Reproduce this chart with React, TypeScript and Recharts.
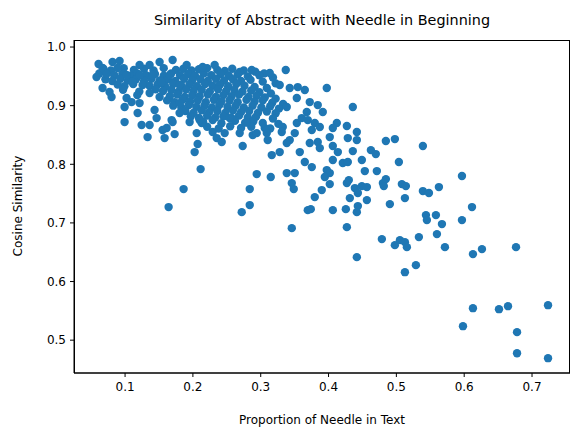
import { ScatterChart, Scatter, XAxis, YAxis, Label } from 'recharts';

// [proportion of needle, cosine similarity]
const denseBand: [number, number][] = [
  [0.068, 0.963], [0.079, 0.960], [0.098, 0.964], [0.113, 0.961], [0.128, 0.963], [0.142, 0.960], [0.157, 0.964], [0.175, 0.961],
  [0.186, 0.963], [0.198, 0.960], [0.209, 0.962], [0.221, 0.964], [0.236, 0.961], [0.247, 0.959], [0.258, 0.963], [0.275, 0.960], [0.292, 0.958], [0.305, 0.955],
  [0.062, 0.955], [0.084, 0.952], [0.096, 0.954], [0.108, 0.951], [0.118, 0.955], [0.131, 0.952], [0.144, 0.954], [0.157, 0.951], [0.168, 0.955], [0.181, 0.952],
  [0.193, 0.954], [0.203, 0.951], [0.216, 0.955], [0.227, 0.952], [0.241, 0.954], [0.253, 0.951], [0.266, 0.953], [0.281, 0.950], [0.298, 0.952], [0.318, 0.948],
  [0.071, 0.945], [0.081, 0.942], [0.093, 0.946], [0.104, 0.943], [0.116, 0.945], [0.128, 0.942], [0.139, 0.946], [0.151, 0.943], [0.163, 0.945], [0.174, 0.942],
  [0.187, 0.946], [0.199, 0.943], [0.211, 0.945], [0.222, 0.942], [0.234, 0.946], [0.246, 0.943], [0.259, 0.945], [0.271, 0.942], [0.285, 0.944], [0.303, 0.941], [0.322, 0.938],
  [0.089, 0.936], [0.099, 0.933], [0.112, 0.937], [0.136, 0.934], [0.148, 0.936], [0.159, 0.933], [0.171, 0.937], [0.183, 0.934], [0.195, 0.936], [0.206, 0.933],
  [0.218, 0.937], [0.229, 0.934], [0.240, 0.936], [0.252, 0.933], [0.264, 0.937], [0.276, 0.934], [0.291, 0.932], [0.309, 0.930],
  [0.097, 0.927], [0.121, 0.924], [0.145, 0.928], [0.156, 0.925], [0.168, 0.927], [0.179, 0.924], [0.190, 0.928], [0.201, 0.925], [0.213, 0.927], [0.225, 0.924],
  [0.237, 0.928], [0.249, 0.925], [0.261, 0.927], [0.273, 0.924], [0.286, 0.926], [0.298, 0.923], [0.315, 0.921],
  [0.118, 0.918], [0.166, 0.916], [0.177, 0.919], [0.188, 0.915], [0.199, 0.918], [0.210, 0.916], [0.222, 0.919], [0.234, 0.915], [0.245, 0.918], [0.257, 0.916],
  [0.268, 0.919], [0.282, 0.915], [0.294, 0.917], [0.306, 0.914], [0.322, 0.912],
  [0.162, 0.909], [0.173, 0.906], [0.185, 0.910], [0.196, 0.907], [0.207, 0.909], [0.219, 0.906], [0.231, 0.910], [0.242, 0.907], [0.254, 0.909], [0.266, 0.906],
  [0.279, 0.910], [0.291, 0.907], [0.303, 0.909], [0.317, 0.905], [0.333, 0.903],
  [0.171, 0.900], [0.183, 0.897], [0.194, 0.901], [0.205, 0.898], [0.217, 0.900], [0.228, 0.897], [0.239, 0.901], [0.251, 0.898], [0.263, 0.900], [0.275, 0.897],
  [0.288, 0.900], [0.301, 0.897], [0.314, 0.899], [0.327, 0.895],
  [0.189, 0.891], [0.201, 0.888], [0.213, 0.892], [0.224, 0.889], [0.236, 0.891], [0.248, 0.888], [0.259, 0.892], [0.271, 0.889], [0.283, 0.891], [0.296, 0.888],
  [0.309, 0.890], [0.322, 0.887],
  [0.197, 0.882], [0.209, 0.879], [0.221, 0.883], [0.233, 0.880], [0.245, 0.882], [0.257, 0.879], [0.268, 0.883], [0.281, 0.880], [0.293, 0.881], [0.318, 0.878],
  [0.215, 0.873], [0.242, 0.870], [0.262, 0.874], [0.277, 0.871], [0.289, 0.873], [0.326, 0.869],
  [0.221, 0.864], [0.238, 0.861], [0.255, 0.865], [0.271, 0.862], [0.286, 0.864], [0.314, 0.861],
];

const bandEdge: [number, number][] = [
  [0.0609, 0.971], [0.0579, 0.9488], [0.0668, 0.9642], [0.0668, 0.930], [0.0801, 0.9147], [0.0771, 0.9232], [0.0815, 0.9744], [0.0919, 0.9761],
  [0.0889, 0.9642], [0.0727, 0.9539], [0.1022, 0.9522], [0.1022, 0.913], [0.0993, 0.8976], [0.1096, 0.9061], [0.1185, 0.8874], [0.1214, 0.9044],
  [0.1435, 0.8925], [0.1465, 0.8788], [0.1509, 0.9147], [0.1613, 0.8618], [0.1686, 0.8754], [0.1804, 0.8874], [0.1804, 0.9044], [0.1701, 0.9778],
  [0.1509, 0.9744], [0.1362, 0.9693], [0.1214, 0.9693], [0.1111, 0.9403], [0.1258, 0.9352], [0.1362, 0.9215], [0.1539, 0.9403], [0.1657, 0.9522],
  [0.1406, 0.9522], [0.1214, 0.9522], [0.1804, 0.9352], [0.1908, 0.9693], [0.2321, 0.9693], [0.2144, 0.9659], [0.269, 0.9573], [0.2867, 0.9608],
  [0.3133, 0.9556], [0.3369, 0.9608], [0.3546, 0.9317], [0.3428, 0.930], [0.328, 0.9352],
];

const lowerLeft: [number, number][] = [
  [0.1952, 0.872], [0.2129, 0.8703], [0.2056, 0.8532], [0.207, 0.8345], [0.2026, 0.8208], [0.2114, 0.7918], [0.1863, 0.7577], [0.2292, 0.855],
  [0.2351, 0.8447], [0.2425, 0.8379], [0.2469, 0.8532], [0.269, 0.8532], [0.2734, 0.8311], [0.2882, 0.8498], [0.2941, 0.8532], [0.3089, 0.8532],
  [0.3103, 0.8413], [0.3059, 0.8618], [0.3163, 0.8157], [0.328, 0.8208], [0.3325, 0.8635], [0.3428, 0.8413], [0.3384, 0.8362], [0.3576, 0.8208],
  [0.3502, 0.8532], [0.3532, 0.8703], [0.2941, 0.7833], [0.3148, 0.7782], [0.3384, 0.785], [0.3502, 0.785], [0.3458, 0.7679], [0.3487, 0.7577],
  [0.2838, 0.7577], [0.2838, 0.7304], [0.272, 0.7184], [0.3458, 0.6911], [0.3694, 0.7218], [0.1642, 0.727], [0.0993, 0.872], [0.1244, 0.8669],
  [0.1362, 0.8669], [0.1332, 0.8464], [0.1553, 0.8584], [0.1583, 0.8447], [0.1731, 0.8515], [0.1701, 0.872], [0.331, 0.855], [0.3605, 0.8788],
  [0.3384, 0.8976], [0.3532, 0.913], [0.21, 0.8754], [0.2292, 0.8754], [0.2542, 0.8788], [0.2793, 0.872], [0.303, 0.8703],
];

const upperRight: [number, number][] = [
  [0.3974, 0.930], [0.365, 0.9266], [0.4358, 0.8976], [0.3723, 0.9061], [0.3841, 0.901], [0.3915, 0.8891], [0.3679, 0.8891], [0.3694, 0.8754],
  [0.3797, 0.8703], [0.3871, 0.8635], [0.3753, 0.8584], [0.4122, 0.8703], [0.4063, 0.8618], [0.427, 0.8652], [0.4417, 0.855], [0.4284, 0.8447],
  [0.4417, 0.8413], [0.4018, 0.8464], [0.3841, 0.8379], [0.3723, 0.8362], [0.3871, 0.8276], [0.4063, 0.8311], [0.4137, 0.8208], [0.4358, 0.8225],
  [0.4624, 0.8242], [0.4697, 0.8174], [0.4845, 0.8396], [0.4978, 0.843], [0.5391, 0.8311], [0.365, 0.8038],
];

const middle: [number, number][] = [
  [0.3753, 0.7952], [0.4063, 0.8072], [0.421, 0.8021], [0.4284, 0.8038], [0.3974, 0.7901], [0.4018, 0.785], [0.3945, 0.7782], [0.4018, 0.7662],
  [0.39, 0.756], [0.3797, 0.744], [0.3738, 0.7235], [0.4063, 0.7218], [0.4255, 0.7235], [0.427, 0.7679], [0.4299, 0.773], [0.4388, 0.7594],
  [0.4432, 0.7509], [0.4491, 0.7628], [0.4565, 0.7611], [0.4535, 0.7884], [0.4712, 0.7884], [0.4491, 0.8072], [0.5037, 0.8038], [0.4314, 0.7423],
  [0.4432, 0.7287], [0.4417, 0.7184], [0.4565, 0.7389], [0.4801, 0.7679], [0.4845, 0.7747], [0.4815, 0.7628], [0.4904, 0.7321], [0.5081, 0.7662],
  [0.514, 0.7628], [0.5126, 0.7423], [0.5391, 0.7543], [0.427, 0.6928], [0.4786, 0.6724], [0.4978, 0.6621], [0.5052, 0.6706], [0.5126, 0.6672],
  [0.5155, 0.6587], [0.5332, 0.6758], [0.4417, 0.6416], [0.5288, 0.628], [0.5126, 0.616],
];

const tail: [number, number][] = [
  [0.5716, 0.6587], [0.6129, 0.6468], [0.6262, 0.6553], [0.6764, 0.6587], [0.6129, 0.5546], [0.6513, 0.5529], [0.6646, 0.558], [0.7236, 0.5597],
  [0.5982, 0.5239], [0.6779, 0.5137], [0.6779, 0.4778], [0.7236, 0.4693], [0.5967, 0.7799], [0.5627, 0.7611], [0.548, 0.7509], [0.6115, 0.727],
  [0.5436, 0.7133], [0.545, 0.7048], [0.5583, 0.7133], [0.5967, 0.7048], [0.5672, 0.698], [0.5598, 0.6809],
];

const xTicks = [0.1, 0.2, 0.3, 0.4, 0.5, 0.6, 0.7];
const yTicks = [0.5, 0.6, 0.7, 0.8, 0.9, 1.0];

const points = [...denseBand, ...bandEdge, ...lowerLeft, ...upperRight, ...middle, ...tail].map(([x, y]) => ({ x, y }));

const font = 'DejaVu Sans, sans-serif';
const tickStyle = { fill: '#000', fontSize: 12, fontFamily: font };

const Dot = (props: any) => <circle cx={props.cx} cy={props.cy} r={4.2} fill="#1f77b4" />;

export default function App() {
  return (
    <div style={{ position: 'absolute', left: 0, top: 0, width: 571, height: 427, background: '#fff' }}>
      <ScatterChart width={571} height={427} margin={{ top: 40, right: 1, bottom: 0, left: 0 }}>
        <XAxis
          type="number"
          dataKey="x"
          domain={[0.0247, 0.756]}
          ticks={xTicks}
          tickFormatter={(v: number) => v.toFixed(1)}
          allowDataOverflow
          height={54}
          tickSize={4}
          tickMargin={5}
          tick={tickStyle}
          stroke="#000"
        >
          <Label value="Proportion of Needle in Text" position="insideBottom" offset={3} style={{ fill: '#000', fontSize: 12, fontFamily: font }} />
        </XAxis>
        <YAxis
          type="number"
          dataKey="y"
          domain={[0.444, 1.012]}
          ticks={yTicks}
          tickFormatter={(v: number) => v.toFixed(1)}
          allowDataOverflow
          width={74}
          tickSize={4}
          tickMargin={4}
          tick={tickStyle}
          stroke="#000"
        />
        <Scatter data={points} shape={Dot} isAnimationActive={false} />
      </ScatterChart>
      <svg width={571} height={427} style={{ position: 'absolute', left: 0, top: 0, pointerEvents: 'none' }}>
        {/* axes frame, matplotlib style */}
        <rect x={74.5} y={40.5} width={495} height={332.5} fill="none" stroke="#000" strokeWidth={1} />
        <text x={322} y={20} textAnchor="middle" dominantBaseline="central" fontSize={14.4} fontFamily={font} fill="#000">
          Similarity of Abstract with Needle in Beginning
        </text>
        <text
          x={18}
          y={206}
          textAnchor="middle"
          dominantBaseline="central"
          fontSize={12}
          fontFamily={font}
          fill="#000"
          transform="rotate(-90 18 206)"
        >
          Cosine Similarity
        </text>
      </svg>
    </div>
  );
}
